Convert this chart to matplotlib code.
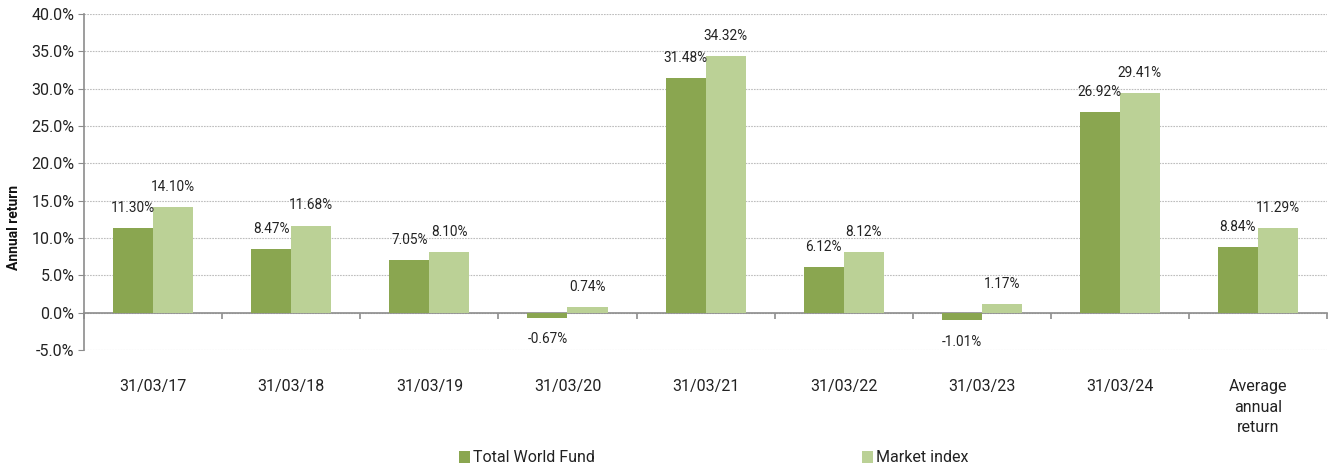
import numpy as np
import matplotlib
matplotlib.use("Agg")
import matplotlib.pyplot as plt
from matplotlib.ticker import FuncFormatter, FixedLocator

plt.rcParams['font.family'] = ['Roboto', 'DejaVu Sans']

# data
categories = ['31/03/17', '31/03/18', '31/03/19', '31/03/20', '31/03/21',
              '31/03/22', '31/03/23', '31/03/24', 'Average\nannual\nreturn']
fund = [11.30, 8.47, 7.05, -0.67, 31.48, 6.12, -1.01, 26.92, 8.84]
index = [14.10, 11.68, 8.10, 0.74, 34.32, 8.12, 1.17, 29.41, 11.29]
series_names = ['Total World Fund', 'Market index']

DARK = '#8AA650'
LIGHT = '#BBD196'
GREY = '#8C8C8C'

fig = plt.figure(figsize=(13.28, 4.68), dpi=100)
ax = fig.add_axes([0.0633, 0.252, 0.936, 0.718])

x = np.arange(len(categories))
w = 0.29
b1 = ax.bar(x - w / 2, fund, w, color=DARK, label=series_names[0], zorder=3)
b2 = ax.bar(x + w / 2, index, w, color=LIGHT, label=series_names[1], zorder=3)

# value labels just outside the end of each bar
for bars, vals in ((b1, fund), (b2, index)):
    for rect, v in zip(bars, vals):
        cx = rect.get_x() + rect.get_width() / 2
        off = 14.5 if v >= 0 else -15.5
        ax.annotate('%.2f%%' % v, (cx, v), xytext=(0, off), textcoords='offset points',
                    ha='center', va='center', fontsize=9.8, color='#222222', zorder=4)

ax.set_xlim(-0.5, len(categories) - 0.5)
ax.set_ylim(-5, 40)
ax.set_yticks(np.arange(-5, 41, 5))
ax.yaxis.set_major_formatter(FuncFormatter(lambda v, p: '%.1f%%' % v))
ax.yaxis.grid(True, linestyle=(0, (1.5, 1)), color='#BDBDBD', linewidth=0.8, zorder=0)
ax.tick_params(axis='y', direction='out', length=4, color=GREY, labelsize=11.5,
               labelcolor='#222222', pad=3)

ax.spines['bottom'].set_position(('data', 0))
for s in ['top', 'right']:
    ax.spines[s].set_visible(False)
ax.spines['left'].set_color(GREY)
ax.spines['bottom'].set_color(GREY)
ax.spines['left'].set_linewidth(1.2)
ax.spines['bottom'].set_linewidth(1.2)

ax.set_xticks(x)
ax.set_xticklabels(categories, fontsize=11.5, linespacing=1.45, color='#222222')
ax.tick_params(axis='x', which='major', length=0, pad=48)
ax.xaxis.set_minor_locator(FixedLocator(np.arange(-0.5, len(categories), 1.0)))
ax.tick_params(axis='x', which='minor', direction='out', length=4, color=GREY, width=1.2)

ax.set_ylabel('Annual return', fontsize=10, fontweight='bold', color='#111111')
ax.yaxis.set_label_coords(-0.0505, 0.365)

fig.legend(handles=[b1, b2], loc='center', bbox_to_anchor=(714 / 1328, 1 - 458 / 468),
           ncol=2, frameon=False, fontsize=11.5, handlelength=0.7, handleheight=0.7,
           handletextpad=0.2, columnspacing=16.7, labelcolor='#222222')

fig.savefig('out.png', dpi=100)
